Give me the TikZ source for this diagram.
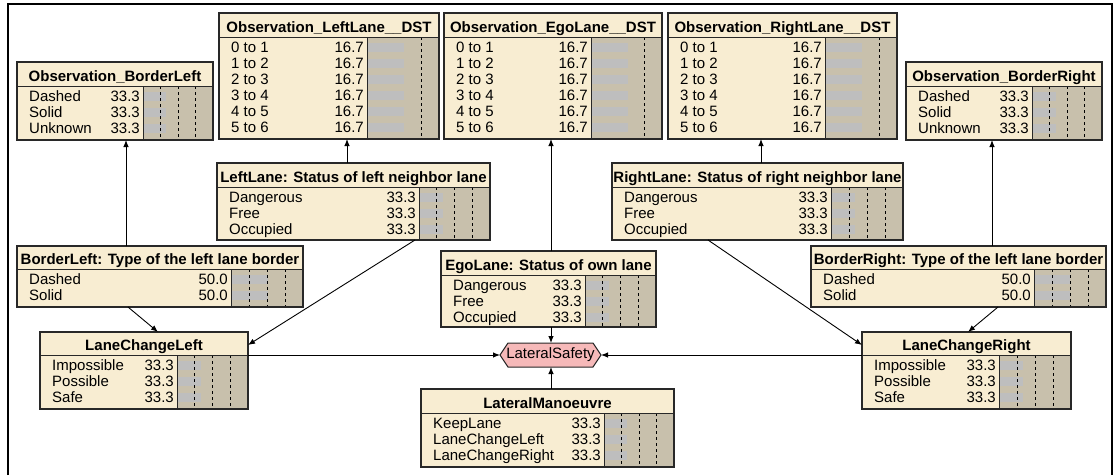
\documentclass[tikz,border=0pt]{standalone}
\usepackage{fontspec}
\setmainfont{Liberation Sans}
\usetikzlibrary{arrows.meta,calc}

\definecolor{nodebg}{RGB}{248,237,210}
\definecolor{barbg}{RGB}{200,192,172}
\definecolor{bargray}{RGB}{190,190,190}
\definecolor{edgecol}{RGB}{40,40,40}
\definecolor{hexfill}{RGB}{246,185,185}

\tikzset{
  frame/.style={draw=black, line width=2.1pt},
  nodebox/.style={draw=edgecol, line width=1.1pt, fill=nodebg, rectangle, inner sep=0pt, outer sep=0pt},
  boxedge/.style={draw=edgecol, line width=1.1pt},
  rule/.style={draw=edgecol, line width=1pt},
  ttl/.style={font=\fontsize{15}{16}\selectfont\bfseries, inner sep=0pt, anchor=base},
  lbl/.style={font=\fontsize{15}{16}\selectfont, inner sep=0pt, anchor=base west},
  val/.style={font=\fontsize{15}{16}\selectfont, inner sep=0pt, anchor=base east},
  meter/.style={draw=black, dash pattern=on 3pt off 3pt, line width=0.8pt},
  conn/.style={draw=black, line width=0.9pt, -{Latex[length=7pt,width=5.5pt]}},
  hexstyle/.style={draw=edgecol, line width=1pt, fill=hexfill},
}

% box: name, x1, y1, x2, y2, title rule y, bar start x, gray bar end x, title
\newcommand\bnbox[9]{%
  \def\nbXa{#2}\def\nbXb{#4}\def\nbYt{#6}\def\nbYb{#5}\def\nbBar{#7}\def\nbGray{#8}%
  \node[nodebox, anchor=north west, minimum width={(#4-#2)*1pt}, minimum height={(#5-#3)*1pt}] (#1) at (#2,#3) {};
  \fill[barbg] (#7,#6) rectangle (#4,#5);
  \node[ttl] (#1-t) at ({(#2+#4)/2},{#6-5}) {#9};
}
% rows (label/value), meter marks (fractions of bar width), then the rules
\newcommand\bnrows[3]{%
  \foreach \lab/\nbv [count=\i] in {#2}{%
    \pgfmathsetmacro\bl{\nbYt+15.5+16*(\i-1)}
    \fill[bargray] (\nbBar,\bl-9.5) rectangle (\nbGray,\bl-1);
    \node[lbl] (#1-l\i) at (\nbXa+12,\bl) {\lab};
    \node[val] (#1-v\i) at (\nbBar-3,\bl) {\nbv};
  }
  \foreach \f in {#3}{%
    \draw[meter] ({\nbBar+\f*(\nbXb-\nbBar)},\nbYt) -- ({\nbBar+\f*(\nbXb-\nbBar)},\nbYb);
  }
  \draw[rule] (\nbXa,\nbYt) -- (\nbXb,\nbYt);
  \draw[rule] (\nbBar,\nbYt) -- (\nbBar,\nbYb);
  \draw[boxedge] (#1.north west) rectangle (#1.south east);
}

\begin{document}
\begin{tikzpicture}[x=1pt,y=-1pt]
\useasboundingbox (0,0) rectangle (1114,475);
\fill[white] (0,0) rectangle (1114,475);
\draw[frame] (8.2,475) -- (8.2,3.7) -- (1112,3.7) -- (1112,475);

% observation nodes
\bnbox{obsBL}{17}{62}{213}{140}{86}{143}{166}{Observation\_BorderLeft}
\bnrows{obsBL}{Dashed/33.3,Solid/33.3,Unknown/33.3}{0.25,0.5,0.75}

\bnbox{obsLL}{219}{13}{439}{139}{37}{367}{404}{Observation\_LeftLane\_\_DST}
\bnrows{obsLL}{0 to 1/16.7,1 to 2/16.7,2 to 3/16.7,3 to 4/16.7,4 to 5/16.7,5 to 6/16.7}{0.75}

\bnbox{obsEL}{444}{13}{662}{139}{37}{591}{628}{Observation\_EgoLane\_\_DST}
\bnrows{obsEL}{0 to 1/16.7,1 to 2/16.7,2 to 3/16.7,3 to 4/16.7,4 to 5/16.7,5 to 6/16.7}{0.75}

\bnbox{obsRL}{668}{13}{897}{139}{37}{825}{862}{Observation\_RightLane\_\_DST}
\bnrows{obsRL}{0 to 1/16.7,1 to 2/16.7,2 to 3/16.7,3 to 4/16.7,4 to 5/16.7,5 to 6/16.7}{0.75}

\bnbox{obsBR}{906}{62}{1102}{140}{86}{1032}{1056}{Observation\_BorderRight}
\bnrows{obsBR}{Dashed/33.3,Solid/33.3,Unknown/33.3}{0.25,0.5,0.75}

% lane and border states
\bnbox{lL}{217}{163}{490}{240}{187}{419}{443}{LeftLane: Status of left neighbor lane}
\bnrows{lL}{Dangerous/33.3,Free/33.3,Occupied/33.3}{0.25,0.5,0.75}

\bnbox{rL}{612}{163}{903}{240}{187}{831}{855}{RightLane: Status of right neighbor lane}
\bnrows{rL}{Dangerous/33.3,Free/33.3,Occupied/33.3}{0.25,0.5,0.75}

\bnbox{bL}{17}{246}{303}{307}{269}{231}{268}{BorderLeft: Type of the left lane border}
\bnrows{bL}{Dashed/50.0,Solid/50.0}{0.25,0.5,0.75}

\bnbox{bR}{811}{246}{1106}{307}{269}{1034}{1070}{BorderRight: Type of the left lane border}
\bnrows{bR}{Dashed/50.0,Solid/50.0}{0.25,0.5,0.75}

\bnbox{eL}{441}{251}{656}{327}{275}{585}{609}{EgoLane: Status of own lane}
\bnrows{eL}{Dangerous/33.3,Free/33.3,Occupied/33.3}{0.25,0.5,0.75}

% lane change and manoeuvre
\bnbox{lcl}{40}{332}{248}{409}{355}{177}{201}{LaneChangeLeft}
\bnrows{lcl}{Impossible/33.3,Possible/33.3,Safe/33.3}{0.25,0.5,0.75}

\bnbox{lcr}{862}{332}{1071}{409}{355}{999}{1023}{LaneChangeRight}
\bnrows{lcr}{Impossible/33.3,Possible/33.3,Safe/33.3}{0.25,0.5,0.75}

\bnbox{lm}{421}{389}{674}{467}{413}{604}{627}{LateralManoeuvre}
\bnrows{lm}{KeepLane/33.3,LaneChangeLeft/33.3,LaneChangeRight/33.3}{0.25,0.5,0.75}

% utility node
\draw[hexstyle] (500,355) -- (508,343) -- (593,343) -- (601,355) -- (593,367) -- (508,367) -- cycle;
\node[inner sep=0pt, outer sep=0pt, minimum width=101pt, minimum height=24pt,
      font=\fontsize{15}{16}\selectfont] (ls) at (550.5,355) {LateralSafety};

% links
\draw[conn] (126,0 |- bL.north) -- (126,0 |- obsBL.south);
\draw[conn] (347,0 |- lL.north) -- (347,0 |- obsLL.south);
\draw[conn] (551,0 |- eL.north) -- (551,0 |- obsEL.south);
\draw[conn] (761,0 |- rL.north) -- (761,0 |- obsRL.south);
\draw[conn] (992,0 |- bR.north) -- (992,0 |- obsBR.south);

\draw[conn] (128,0 |- bL.south) -- (158,0 |- lcl.north);
\draw[conn] (415,0 |- lL.south) -- (lcl.east |- 0,345);
\draw[conn] (708,0 |- rL.south) -- (lcr.west |- 0,345);
\draw[conn] (998,0 |- bR.south) -- (968,0 |- lcr.north);

\draw[conn] (551,0 |- eL.south) -- (551,0 |- ls.north);
\draw[conn] (551,0 |- lm.north) -- (551,0 |- ls.south);
\draw[conn] (lcl.east |- 0,355) -- (ls.west);
\draw[conn] (lcr.west |- 0,355) -- (ls.east);
\end{tikzpicture}
\end{document}
